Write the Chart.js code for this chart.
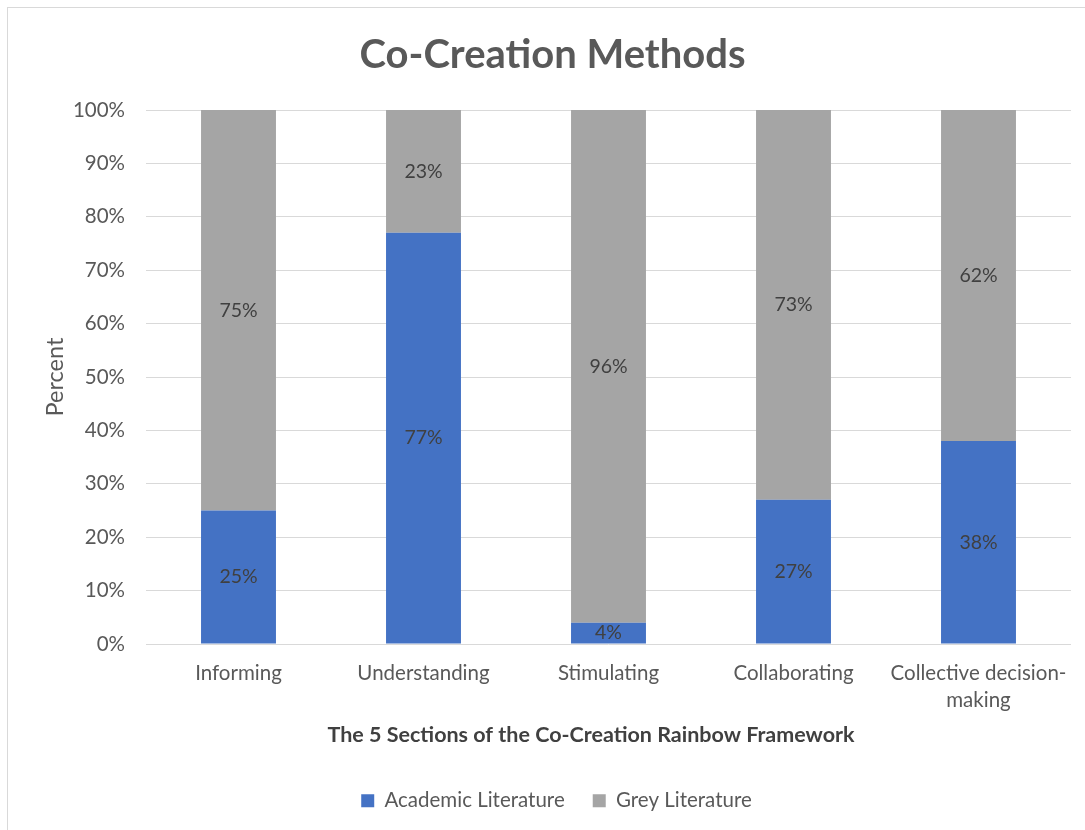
<!DOCTYPE html>
<html>
<head>
<meta charset="utf-8">
<script src="https://cdn.jsdelivr.net/npm/chart.js@4.4.1/dist/chart.umd.min.js"></script>
<style>
  html, body { margin: 0; padding: 0; background: #fff; }
  #wrap { position: relative; width: 1085px; height: 830px; overflow: hidden; }
  #frame { position: absolute; left: 7px; top: 7px; width: 1100px; height: 840px; border: 1px solid #d9d9d9; box-sizing: border-box; pointer-events: none; }
  canvas { position: absolute; left: 0; top: 0; }
</style>
</head>
<body>
<div id="wrap">
  <canvas id="chart" width="1085" height="830"></canvas>
  <div id="frame"></div>
</div>
<script>
// values (percent)
const categories = ['Informing', 'Understanding', 'Stimulating', 'Collaborating', ['Collective decision-', 'making']];
const academic = [25, 77, 4, 27, 38];
const grey = [75, 23, 96, 73, 62];
const yTicks = [0, 10, 20, 30, 40, 50, 60, 70, 80, 90, 100];

const fontFamily = 'Lato, "Open Sans", sans-serif';

// draws the value in the middle of every bar segment
const barLabels = {
  id: 'barLabels',
  afterDatasetsDraw(chart) {
    const ctx = chart.ctx;
    ctx.save();
    ctx.font = '19.5px ' + fontFamily;
    ctx.fillStyle = '#404040';
    ctx.textAlign = 'center';
    ctx.textBaseline = 'middle';
    chart.data.datasets.forEach((ds, i) => {
      const meta = chart.getDatasetMeta(i);
      meta.data.forEach((bar, j) => {
        const mid = (bar.y + bar.base) / 2;
        ctx.fillText(ds.data[j] + '%', bar.x, mid);
      });
    });
    ctx.restore();
  }
};

// the original centres title, legend and axis title a little off the plot centre
const nudge = {
  id: 'nudge',
  afterLayout(chart) {
    chart.titleBlock.left += 24;
    chart.legend.left += 16;
    chart.legend.right += 16;
    chart.scales.x.left -= 35;
  }
};

new Chart(document.getElementById('chart'), {
  type: 'bar',
  data: {
    labels: categories,
    datasets: [
      { label: 'Academic Literature', data: academic, backgroundColor: '#4472C4', barPercentage: 0.405, categoryPercentage: 1 },
      { label: 'Grey Literature', data: grey, backgroundColor: '#A5A5A5', barPercentage: 0.405, categoryPercentage: 1 }
    ]
  },
  options: {
    responsive: false,
    animation: false,
    layout: { padding: { left: 10, right: 14, top: 14, bottom: 9 } },
    plugins: {
      title: {
        display: true,
        text: 'Co-Creation Methods',
        color: '#595959',
        font: { family: fontFamily, size: 40, weight: 'bold' },
        padding: { top: 17, bottom: 31 }
      },
      legend: {
        position: 'bottom',
        labels: {
          color: '#595959',
          font: { family: fontFamily, size: 20.5 },
          boxWidth: 13,
          boxHeight: 13,
          padding: 28
        }
      },
      tooltip: { enabled: false }
    },
    scales: {
      x: {
        stacked: true,
        grid: { display: false, drawTicks: false },
        border: { display: false },
        ticks: {
          color: '#595959',
          font: { family: fontFamily, size: 20.5, lineHeight: 1.32 },
          padding: 16,
          maxRotation: 0,
          autoSkip: false
        },
        title: {
          display: true,
          text: 'The 5 Sections of the Co-Creation Rainbow Framework',
          color: '#404040',
          font: { family: fontFamily, size: 21.5, weight: 'bold' },
          padding: { top: 0, bottom: 14.5 }
        },
        afterFit(scale) { scale.height = 118.5; }
      },
      y: {
        stacked: true,
        min: 0,
        max: 100,
        border: { display: false },
        grid: { color: '#d9d9d9', drawTicks: false },
        afterBuildTicks(scale) { scale.ticks = yTicks.map(v => ({ value: v })); },
        ticks: {
          color: '#595959',
          font: { family: fontFamily, size: 20.5 },
          padding: 21,
          callback: v => v + '%'
        },
        title: {
          display: true,
          text: 'Percent',
          color: '#595959',
          font: { family: fontFamily, size: 23.5 },
          padding: { top: 31, bottom: 0 }
        },
        afterFit(scale) { scale.width = 136; }
      }
    }
  },
  plugins: [barLabels, nudge]
});
</script>
</body>
</html>
